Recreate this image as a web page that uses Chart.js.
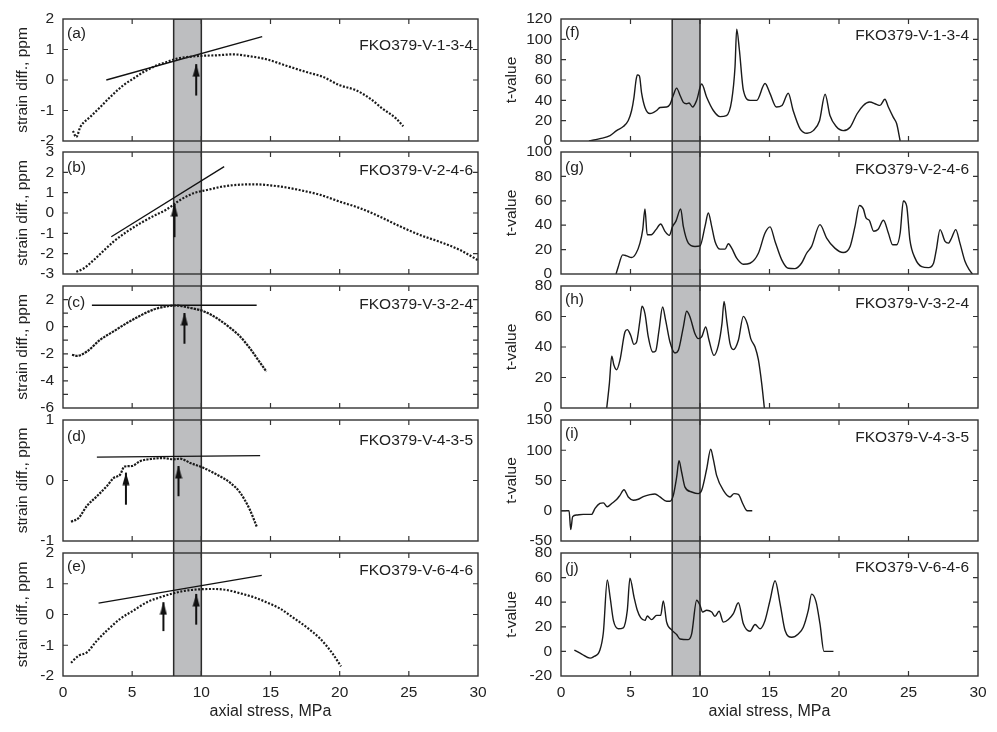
<!DOCTYPE html>
<html>
<head>
<meta charset="utf-8">
<script src="https://cdn.jsdelivr.net/npm/chart.js@4.4.1/dist/chart.umd.min.js"></script>
<style>
html,body{margin:0;padding:0;background:#fff;}
#wrap{position:relative;width:997px;height:732px;overflow:hidden;background:#fff;}
#wrap canvas{position:absolute;left:0;top:0;}
</style>
</head>
<body>
<div id="wrap"></div>
<script>
// ================= DATA =================
// shaded stress band (MPa)
const bandStress = [8, 8, 10, 10];
const bandLevel  = [0, 1, 1, 0];

// (a) FKO379-V-1-3-4 strain difference (ppm)
const stressA = [0.72,0.96,1.25,1.97,2.69,3.41,4.37,5.1,5.82,6.79,7.5,8.23,8.95,9.91,11.1,12.3,13.3,14.7,16.2,17.6,18.8,20.0,21.2,22.2,23.1,24.1,24.6];
const strainA = [-1.67,-1.87,-1.54,-1.21,-0.89,-0.56,-0.17,0.05,0.26,0.48,0.59,0.70,0.75,0.79,0.81,0.84,0.79,0.68,0.46,0.26,0.10,-0.17,-0.34,-0.61,-0.94,-1.27,-1.52];
const fitAx = [3.13, 14.4], fitAy = [0.0, 1.42];
const arrowAx = [9.63], arrowAtail = [-0.51], arrowAtip = [0.52];

// (b) FKO379-V-2-4-6
const stressB = [0.96,1.49,2.21,2.93,3.65,4.62,5.58,6.54,7.5,8.47,9.43,10.4,11.8,13.8,15.7,17.1,18.6,20.0,21.5,22.9,24.4,25.8,27.2,28.7,30.0];
const strainB = [-2.89,-2.73,-2.32,-1.86,-1.41,-0.92,-0.51,-0.15,0.18,0.64,0.97,1.13,1.33,1.41,1.30,1.13,0.89,0.56,0.23,-0.18,-0.67,-1.08,-1.41,-1.82,-2.32];
const fitBx = [3.49, 11.65], fitBy = [-1.17, 2.28];
const arrowBx = [8.06], arrowBtail = [-1.19], arrowBtip = [0.44];

// (c) FKO379-V-3-2-4
const stressC = [0.65,1.01,1.73,2.69,3.65,4.62,5.58,6.54,7.5,8.2,9.2,10.15,11.1,12.1,12.8,13.5,14.1,14.7];
const strainC = [-2.07,-2.15,-1.83,-0.96,-0.35,0.27,0.81,1.26,1.50,1.56,1.38,1.14,0.64,-0.10,-0.72,-1.58,-2.44,-3.31];
const fitCx = [2.09, 14.0], fitCy = [1.58, 1.58];
const arrowCx = [8.78], arrowCtail = [-1.26], arrowCtip = [1.01];

// (d) FKO379-V-4-3-5
const stressD = [0.58,1.13,1.73,2.45,3.18,3.65,4.14,4.43,4.98,5.58,6.54,7.26,7.99,8.47,9.2,10.15,11.1,12.1,12.8,13.5,14.0];
const strainD = [-0.68,-0.62,-0.42,-0.26,-0.09,0.04,0.10,0.23,0.24,0.32,0.36,0.37,0.35,0.36,0.29,0.21,0.10,-0.04,-0.20,-0.48,-0.76];
const fitDx = [2.45, 14.25], fitDy = [0.385, 0.41];
const arrowDx = [4.55, 8.35], arrowDtail = [-0.40, -0.26], arrowDtip = [0.13, 0.24];

// (e) FKO379-V-6-4-6
const stressE = [0.58,1.13,1.73,2.45,3.18,4.14,5.1,6.07,7.03,7.99,8.95,9.91,10.9,11.8,12.8,13.8,14.7,15.7,16.6,17.6,18.6,19.5,20.1];
const strainE = [-1.57,-1.34,-1.23,-0.85,-0.52,-0.14,0.13,0.40,0.56,0.69,0.78,0.82,0.83,0.80,0.69,0.56,0.40,0.19,-0.09,-0.41,-0.79,-1.28,-1.69];
const fitEx = [2.57, 14.37], fitEy = [0.37, 1.27];
const arrowEx = [7.26, 9.63], arrowEtail = [-0.54, -0.33], arrowEtip = [0.40, 0.67];

// (f) t-value FKO379-V-1-3-4
const stressF = [2.01,2.81,3.53,4.0,4.48,4.84,5.08,5.25,5.4,5.49,5.64,5.8,6.04,6.4,6.88,7.12,7.6,7.84,8.08,8.32,8.56,8.8,9.04,9.21,9.47,9.76,10.12,10.48,10.96,11.44,11.9,12.28,12.52,12.64,12.83,13.12,13.6,14.08,14.68,15.04,15.5,15.9,16.35,16.7,17.2,17.7,18.15,18.6,19.0,19.35,19.8,20.3,20.8,21.3,21.75,22.2,22.7,22.95,23.3,23.55,23.9,24.15,24.4];
const tF = [0,2.3,5.3,10.2,14.2,20.2,30,43,60,65,64,47,33,27,30,33,33.4,36,45,52,45,38,36.7,37.4,33.4,40,56,43,30,24,25,40,73,110,90,50,40,40,56.5,46.6,33.4,35,47,30,12,7.6,10.2,20,46,25,14.2,10.2,13.5,26.8,35,38.3,36,35,41,33.4,23.5,16.9,0];

// (g) t-value FKO379-V-2-4-6
const stressG = [3.96,4.12,4.44,4.72,5.08,5.4,5.68,5.88,6.04,6.2,6.5,6.83,7.17,7.48,7.79,8.03,8.27,8.61,8.8,9.16,9.64,10.0,10.36,10.6,10.84,11.08,11.44,11.8,12.04,12.28,12.64,13.12,13.6,14.2,14.68,15.04,15.4,15.88,16.35,16.83,17.3,17.67,18.03,18.63,19.11,19.7,20.3,20.8,21.15,21.47,21.75,21.94,22.18,22.5,22.8,23.2,23.55,23.86,24.15,24.4,24.63,24.87,25.1,25.47,25.95,26.43,26.8,27.0,27.27,27.63,27.87,28.1,28.4,28.7,29.07,29.38,29.6];
const tG = [0,6,15.7,14.9,13.5,17,25.3,36.4,53.4,32.2,32.2,36.4,41,35,31.7,39,43.3,53.4,39,25.3,22.6,23,39,50,39,26.7,20.4,20.4,24.8,21.2,13,8,8.8,17,33.6,38.6,26.7,11.6,4.7,4.4,8.8,17,22.6,40.5,29.5,21.2,17.6,22.6,39,56.2,53.4,46,44,35,36.4,44,33.6,24,24,33.6,59.8,55.6,28,13,6,5.2,8.8,19.8,36.4,26.7,25.3,29.5,36.4,25.3,10.2,3.3,0];

// (h) t-value FKO379-V-3-2-4
const stressH = [3.29,3.48,3.65,3.81,4.0,4.24,4.6,4.77,5.01,5.25,5.44,5.68,5.83,6.04,6.28,6.6,6.81,7.05,7.31,7.53,7.84,8.2,8.44,8.8,9.04,9.28,9.64,9.88,10.12,10.41,10.65,11.0,11.32,11.58,11.73,11.92,12.16,12.4,12.76,13.12,13.4,13.65,13.96,14.2,14.44,14.63];
const tH = [0,16,34,28,25.1,31.3,49.8,51.4,47.7,41.7,43.3,57.5,66.7,61.9,46.6,36.7,37.4,50.9,66.2,57.5,43.3,36.1,37.8,53.1,63.4,59.7,48.7,45.5,46.6,53.1,44.4,34.5,41.1,55.3,69.9,57.5,42.2,38.3,44.4,60.1,55.3,45.5,40,31.7,16,0];

// (i) t-value FKO379-V-4-3-5
const stressI = [0,0.58,0.7,0.84,1.13,1.6,2.2,2.45,2.8,3.05,3.33,3.65,4.0,4.24,4.53,4.84,5.2,5.56,5.92,6.4,6.76,7.12,7.6,7.84,8.08,8.32,8.49,8.68,8.92,9.4,9.88,10.12,10.48,10.77,10.96,11.2,11.68,12.16,12.45,12.76,13.07,13.4,13.76];
const tI = [0,0,-31,-9.8,-7,-6,-6,3.8,12,13,6.5,12,18.5,25.5,34.8,22.8,17.4,19,23.4,26.6,27.7,22.8,15.8,15.8,25.5,55.4,82.6,63.6,39,31,28.3,33.7,69,101.6,85,58,33.7,22.8,28.3,27.2,12,0,0];

// (j) t-value FKO379-V-6-4-6
const stressJ = [0.96,1.49,2.09,2.33,2.8,3.05,3.33,3.53,3.77,4.12,4.48,4.77,4.96,5.25,5.49,5.73,6.04,6.21,6.52,6.88,7.17,7.36,7.6,7.96,8.32,8.56,9.16,9.4,9.76,10.0,10.19,10.48,10.84,11.08,11.37,11.68,12.04,12.4,12.76,13.12,13.6,13.96,14.32,14.68,15.04,15.4,15.76,16.12,16.6,17.07,17.43,17.79,18.03,18.35,18.63,18.92,19.6];
const tJ = [1.1,-2.2,-5.5,-4.4,1.1,15.6,58,44.4,25.2,18.4,19.2,33.4,59.5,44.4,33.4,27.4,25.2,28.8,25.8,29.3,29.3,41.1,23.8,17.5,13.7,10.1,9.6,14.2,41.6,37.5,32,33.4,32,28.5,32.6,23.8,26,30.7,39.5,22.5,16.4,21.9,18.4,25.2,41.6,57.5,38.9,17,11.5,14.2,19.7,33.4,46.6,40.3,22.5,0,0];

// ================= LAYOUT / STYLE =================
const W = 997, H = 732;
const rows = [[19,141],[152,274],[286,408],[420,541],[553,676]];
const cols = [{padLeft:0, axisW:63, right:478, titlePad:13, title:'strain diff., ppm', nameDx:5},
              {padLeft:500, axisW:61, right:978, titlePad:2, title:'t-value', nameDx:9}];
const XAXIS_H = 50;
const INK = '#222';
const FONT = 'Liberation Sans, Arial, Helvetica, sans-serif';
Chart.defaults.font.family = FONT;
Chart.defaults.font.size = 15.5;
Chart.defaults.color = INK;

const wrap = document.getElementById('wrap');
function newCanvas(){
  const c = document.createElement('canvas');
  c.width = W; c.height = H;
  c.style.width = W+'px'; c.style.height = H+'px';
  wrap.appendChild(c);
  return c;
}
const pts = (xs, ys) => xs.map((x,i)=>({x, y: ys[i]}));

// narrow arrowhead image, centred on its tip
const arrowHead = (function(){
  const c = document.createElement('canvas'); c.width = 8; c.height = 26;
  const g = c.getContext('2d'); g.fillStyle = '#111';
  g.beginPath(); g.moveTo(4,13); g.lineTo(7.6,25.5); g.lineTo(0.4,25.5); g.closePath(); g.fill();
  return c;
})();

// frame + inward ticks + panel texts
const framePlugin = {
  id: 'frame',
  afterDraw(chart, args, o) {
    if (!o || !o.on) return;
    const {ctx, chartArea: a} = chart;
    const xs = chart.scales.x, ys = chart.scales.y;
    ctx.save();
    ctx.strokeStyle = '#333'; ctx.lineWidth = 1.4;
    ctx.strokeRect(a.left, a.top, a.right - a.left, a.bottom - a.top);
    ctx.beginPath();
    const L = 5;
    xs.ticks.forEach(t => {
      const p = xs.getPixelForValue(t.value);
      if (p <= a.left + 1 || p >= a.right - 1) return;
      ctx.moveTo(p, a.bottom); ctx.lineTo(p, a.bottom - L);
      ctx.moveTo(p, a.top); ctx.lineTo(p, a.top + L);
    });
    ys.ticks.forEach(t => {
      const p = ys.getPixelForValue(t.value);
      if (p <= a.top + 1 || p >= a.bottom - 1) return;
      ctx.moveTo(a.left, p); ctx.lineTo(a.left + L, p);
      ctx.moveTo(a.right, p); ctx.lineTo(a.right - L, p);
    });
    ctx.lineWidth = 1.2; ctx.stroke();
    ctx.fillStyle = INK; ctx.font = '15.5px ' + FONT; ctx.textBaseline = 'middle';
    ctx.textAlign = 'left'; ctx.fillText(o.label, a.left + 4, a.top + o.labelDy);
    ctx.textAlign = 'right'; ctx.fillText(o.name, a.right - o.nameDx, a.top + o.nameDy);
    ctx.restore();
  }
};
Chart.register(framePlugin);

// ---- band charts (one per column) ----
cols.forEach(col => {
  new Chart(newCanvas(), {
    type: 'line',
    data: { datasets: [{ data: pts(bandStress, bandLevel), fill: 'origin', backgroundColor: '#bdbec0',
      borderColor: '#2a2a2a', borderWidth: 1.5, pointRadius: 0, tension: 0 }] },
    options: {
      responsive: false, animation: false, devicePixelRatio: 1,
      layout: { padding: { left: col.padLeft + col.axisW, right: W - col.right, top: rows[0][0], bottom: H - rows[4][1] } },
      scales: { x: { type: 'linear', min: 0, max: 30, display: false }, y: { type: 'linear', min: 0, max: 1, display: false } },
      plugins: { legend: { display: false }, tooltip: { enabled: false }, frame: { on: false } }
    }
  });
});

// ---- panels ----
const panels = [
  {col:0,row:0,label:'(a)',name:'FKO379-V-1-3-4',x:stressA,y:strainA,fx:fitAx,fy:fitAy,ax:arrowAx,at:arrowAtail,ah:arrowAtip,min:-2,max:2,step:1,labelDy:15,nameDy:27,dash:[2,1.6]},
  {col:0,row:1,label:'(b)',name:'FKO379-V-2-4-6',x:stressB,y:strainB,fx:fitBx,fy:fitBy,ax:arrowBx,at:arrowBtail,ah:arrowBtip,min:-3,max:3,step:1,labelDy:16,nameDy:19,dash:[2,1.6]},
  {col:0,row:2,label:'(c)',name:'FKO379-V-3-2-4',x:stressC,y:strainC,fx:fitCx,fy:fitCy,ax:arrowCx,at:arrowCtail,ah:arrowCtip,min:-6,max:3,step:1,even:true,labelDy:17,nameDy:18.5,dash:[2.4,1]},
  {col:0,row:3,label:'(d)',name:'FKO379-V-4-3-5',x:stressD,y:strainD,fx:fitDx,fy:fitDy,ax:arrowDx,at:arrowDtail,ah:arrowDtip,min:-1,max:1,step:1,labelDy:17,nameDy:20.5,dash:[2.2,1.2]},
  {col:0,row:4,label:'(e)',name:'FKO379-V-6-4-6',x:stressE,y:strainE,fx:fitEx,fy:fitEy,ax:arrowEx,at:arrowEtail,ah:arrowEtip,min:-2,max:2,step:1,labelDy:14,nameDy:18,dash:[2,1.6],bottom:true},
  {col:1,row:0,label:'(f)',name:'FKO379-V-1-3-4',x:stressF,y:tF,min:0,max:120,step:20,labelDy:13.5,nameDy:17},
  {col:1,row:1,label:'(g)',name:'FKO379-V-2-4-6',x:stressG,y:tG,min:0,max:100,step:20,labelDy:16,nameDy:18},
  {col:1,row:2,label:'(h)',name:'FKO379-V-3-2-4',x:stressH,y:tH,min:0,max:80,step:20,labelDy:14,nameDy:17.5},
  {col:1,row:3,label:'(i)',name:'FKO379-V-4-3-5',x:stressI,y:tI,min:-50,max:150,step:50,labelDy:14,nameDy:17.5},
  {col:1,row:4,label:'(j)',name:'FKO379-V-6-4-6',x:stressJ,y:tJ,min:-20,max:80,step:20,labelDy:16,nameDy:14.5,bottom:true}
];

panels.forEach(p => {
  const col = cols[p.col];
  const [top, bot] = rows[p.row];
  const datasets = [];
  if (p.col === 0) {
    datasets.push({ data: pts(p.x, p.y), borderColor: '#1a1a1a', borderWidth: 2.2, borderDash: p.dash,
      pointRadius: 0, cubicInterpolationMode: 'monotone', fill: false });
    datasets.push({ data: pts(p.fx, p.fy), borderColor: '#111', borderWidth: 1.3, pointRadius: 0, fill: false });
    p.ax.forEach((xv, i) => {
      datasets.push({ data: [{x: xv, y: p.at[i]}, {x: xv, y: p.ah[i]}], borderColor: '#111', borderWidth: 2,
        pointStyle: arrowHead, pointRadius: c => c.dataIndex === 1 ? 3 : 0, fill: false });
    });
  } else {
    datasets.push({ data: pts(p.x, p.y), borderColor: '#1a1a1a', borderWidth: 1.4, pointRadius: 0,
      cubicInterpolationMode: 'monotone', fill: false });
  }
  new Chart(newCanvas(), {
    type: 'line',
    data: { datasets },
    options: {
      responsive: false, animation: false, devicePixelRatio: 1,
      layout: { padding: { left: col.padLeft, right: W - col.right, top: top, bottom: H - bot - (p.bottom ? XAXIS_H : 0) } },
      scales: {
        x: { type: 'linear', min: 0, max: 30,
          ticks: { stepSize: 5, display: !!p.bottom, padding: 7, maxRotation: 0, autoSkip: false, color: INK, font: { size: 15.5 } },
          grid: { display: false, drawTicks: false }, border: { display: false },
          title: { display: !!p.bottom, text: 'axial stress, MPa', color: INK, font: { size: 16 }, padding: { top: 0, bottom: 5 } },
          afterFit: s => { s.height = p.bottom ? XAXIS_H : 0; } },
        y: { type: 'linear', min: p.min, max: p.max,
          ticks: { stepSize: p.step, padding: 9, autoSkip: false, color: INK, font: { size: 15.5 },
            callback: v => (p.even && Math.abs(v % 2) > 1e-9) ? '' : v },
          grid: { display: false, drawTicks: false }, border: { display: false },
          title: { display: true, text: col.title, color: INK, font: { size: 15.5 }, padding: { top: col.titlePad, bottom: 0 } },
          afterFit: s => { s.width = col.axisW; } }
      },
      plugins: { legend: { display: false }, tooltip: { enabled: false },
        frame: { on: true, label: p.label, name: p.name, labelDy: p.labelDy, nameDy: p.nameDy, nameDx: col.nameDx } }
    }
  });
});
</script>
</body>
</html>
